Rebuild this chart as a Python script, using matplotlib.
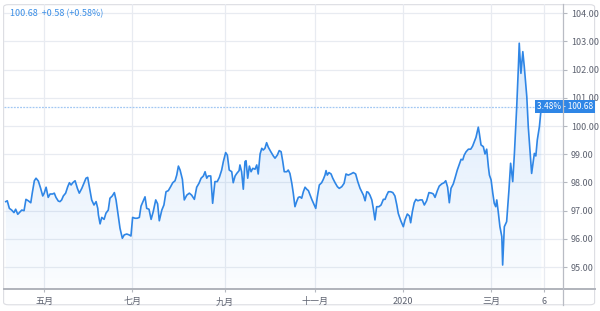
import numpy as np
import matplotlib
matplotlib.use("Agg")
import matplotlib.pyplot as plt
from matplotlib.lines import Line2D
from matplotlib.patches import FancyBboxPatch

plt.rcParams['font.family'] = ['Noto Sans CJK SC', 'DejaVu Sans']

# bar index (trading sessions since 2019-04-01) and close values
bars = [3.8, 4.5, 5.5, 6.6, 7.7, 8.5, 9.5, 10.6, 11.4, 12.5, 13.4, 14.5, 15.7, 16.4, 17.4, 18.2,
        19.3, 20.4, 21.4, 22.1, 23.0, 24.0, 24.9, 26.1, 26.9, 27.7, 28.8, 29.6, 30.4, 31.2, 32.3,
        33.3, 34.1, 34.9, 35.7, 36.8, 37.9, 38.8, 40.0, 41.1, 42.0, 42.8, 43.6, 44.7, 45.8, 46.8,
        47.6, 47.9, 48.7, 49.5, 50.6, 51.5, 52.6, 53.4, 54.5, 55.5, 56.3, 57.1, 58.2, 59.3, 60.2,
        61.4, 62.5, 63.4, 64.2, 65.3, 66.4, 67.4, 68.2, 69.3, 70.1, 70.9, 72.0, 73.0, 74.0, 75.2,
        76.1, 76.9, 78.1, 79.1, 80.1, 81.2, 82.3, 83.3, 84.4, 85.2, 86.0, 86.8, 87.9, 88.8, 90.0,
        91.2, 92.3, 93.6, 94.7, 95.8, 96.8, 97.9, 98.7, 99.5, 100.2, 101.4, 102.3, 103.4, 104.5,
        105.5, 106.6, 107.4, 108.5, 109.3, 110.2, 111.4, 112.1, 113.0, 113.8, 114.9, 115.3, 116.1,
        116.9, 117.7, 118.2, 119.0, 119.8, 120.6, 121.4, 122.5, 123.3, 124.0, 124.9, 125.7, 126.4,
        127.2, 128.0, 128.8, 130.0, 131.2, 132.0, 133.1, 134.0, 134.9, 135.7, 136.4, 137.6, 138.3,
        139.1, 140.0, 140.7, 141.5, 142.3, 143.1, 143.9, 144.7, 145.5, 146.3, 147.1, 147.9, 148.7,
        149.5, 150.2, 151.4, 152.1, 153.1, 154.2, 155.0, 155.8, 156.3, 156.9, 157.7, 158.7, 159.5,
        160.6, 161.7, 162.6, 163.8, 164.9, 165.8, 166.9, 168.1, 169.3, 170.4, 171.4, 172.5, 173.3,
        174.1, 174.9, 175.7, 176.4, 177.2, 178.1, 178.8, 179.6, 180.4, 181.5, 182.5, 183.6, 184.4,
        185.2, 186.0, 187.1, 188.1, 189.1, 190.0, 190.7, 191.9, 193.1, 193.9, 195.0, 196.0, 196.6,
        197.4, 198.3, 199.1, 200.0, 201.1, 202.1, 203.1, 204.2, 205.3, 206.6, 207.4, 208.2, 209.3,
        210.2, 211.4, 212.5, 213.3, 214.2, 215.0, 215.8, 216.9, 217.7, 218.8, 219.8, 220.6, 221.4,
        222.1, 223.0, 224.1, 225.2, 226.1, 226.9, 227.7, 228.8, 229.3, 230.1, 231.2, 232.0, 232.8,
        233.6, 234.1, 234.9, 235.7, 236.4, 237.1, 237.6, 238.3, 239.1, 240.0, 240.4, 241.2, 242.3,
        243.4, 244.2, 245.2, 246.0, 247.1, 247.9, 248.3, 249.1, 250.0, 250.7, 251.9, 252.6, 253.4,
        254.2, 255.0, 255.5, 256.2, 256.9, 257.9, 258.8]
close = [97.32, 97.35, 97.08, 97.02, 96.93, 97.05, 96.87, 96.96, 97.02, 97.00, 97.40, 97.35, 97.28,
         97.62, 98.06, 98.15, 98.05, 97.79, 97.52, 97.62, 97.83, 97.47, 97.59, 97.59, 97.62, 97.47,
         97.34, 97.32, 97.38, 97.52, 97.62, 97.85, 97.99, 97.91, 97.99, 98.06, 97.79, 97.62, 97.79,
         97.99, 98.15, 98.18, 97.85, 97.38, 97.20, 97.32, 97.08, 96.85, 96.53, 96.76, 96.69, 96.91,
         97.02, 97.44, 97.52, 97.64, 97.38, 96.96, 96.37, 96.02, 96.14, 96.17, 96.14, 96.10, 96.76,
         96.73, 96.73, 96.76, 97.16, 97.35, 97.49, 97.08, 97.05, 96.69, 96.96, 97.38, 97.24, 96.64,
         97.02, 97.20, 97.67, 97.71, 97.85, 97.99, 98.06, 98.26, 98.58, 98.44, 98.11, 97.38, 97.55,
         97.62, 97.55, 97.40, 97.83, 97.97, 98.15, 98.23, 98.38, 98.15, 98.23, 98.23, 97.26, 98.03,
         98.03, 98.18, 98.44, 98.74, 99.06, 98.97, 98.44, 98.38, 97.99, 98.23, 98.32, 98.42, 98.62,
         98.38, 97.76, 98.74, 98.77, 98.15, 98.58, 98.38, 98.50, 98.47, 98.62, 98.30, 99.01, 99.21,
         99.15, 99.21, 99.41, 99.25, 99.09, 98.94, 98.86, 98.97, 99.13, 99.09, 98.74, 98.38, 98.38,
         98.44, 98.32, 97.97, 97.62, 97.14, 97.32, 97.47, 97.49, 97.44, 97.67, 97.83, 97.76, 97.71,
         97.55, 97.40, 97.28, 97.08, 97.47, 97.91, 97.99, 98.11, 98.26, 98.42, 98.26, 98.35, 98.30,
         98.15, 97.99, 97.85, 97.79, 97.85, 97.97, 98.30, 98.26, 98.30, 98.35, 98.30, 98.03, 97.79,
         97.67, 97.55, 97.35, 97.67, 97.65, 97.55, 97.38, 97.08, 96.67, 97.14, 97.14, 97.20, 97.40,
         97.40, 97.55, 97.67, 97.67, 97.64, 97.52, 97.20, 96.90, 96.64, 96.43, 96.67, 96.88, 96.81,
         96.57, 96.96, 97.28, 97.40, 97.35, 97.38, 97.38, 97.20, 97.35, 97.64, 97.62, 97.59, 97.47,
         97.71, 97.87, 97.95, 97.99, 98.06, 97.83, 97.28, 97.79, 97.95, 98.15, 98.44, 98.65, 98.82,
         98.80, 98.97, 99.09, 99.18, 99.18, 99.29, 99.45, 99.60, 99.96, 99.74, 99.33, 99.27, 99.01,
         99.18, 98.56, 98.26, 98.09, 97.62, 97.26, 97.14, 97.38, 96.96, 96.43, 96.08, 95.07, 96.43,
         96.61, 97.73, 98.68, 98.03, 99.03, 100.69, 102.11, 102.94, 101.87, 102.64, 102.11, 101.04,
         99.98, 99.15, 98.32, 98.74, 99.03, 98.94, 99.51, 99.98, 100.68]

tick_pos = [22, 64, 108, 151, 193, 235, 260]
tick_labels = ["五月", "七月", "九月", "十一月", "2020", "三月", "6"]
y_ticks = [95, 96, 97, 98, 99, 100, 101, 102, 103, 104]

last = close[-1]
header = "100.68  +0.58 (+0.58%)"
badge = "3.48% - 100.68"

line_color = "#2f86e6"
grid_color = "#e8ebf1"
text_color = "#5d6270"

fig = plt.figure(figsize=(6.0, 3.11), dpi=100)
fig.patch.set_facecolor("white")

# card frame
fig.add_artist(FancyBboxPatch((0.006, 0.02), 0.985, 0.965, boxstyle="round,pad=0,rounding_size=0.008",
                              transform=fig.transFigure, facecolor="white", edgecolor="#dcdde2",
                              linewidth=0.8, zorder=0))

ax = fig.add_axes([4 / 600, 22 / 311, 558.5 / 600, 285 / 311])
ax.set_facecolor("none")
ymin, ymax = 94.22, 104.33
xmin, xmax = 2.95, 268.9

# gradient area under the line
poly = ax.fill_between(bars, close, ymin, color="none", linewidth=0)
rgba = np.zeros((256, 1, 4))
rgba[..., 0], rgba[..., 1], rgba[..., 2] = 0.20, 0.55, 0.94
rgba[:, 0, 3] = np.linspace(0.20, 0.02, 256)
img = ax.imshow(rgba, extent=[xmin, xmax, ymin, 103.2], aspect="auto", origin="upper", zorder=1)
img.set_clip_path(poly.get_paths()[0], transform=ax.transData)

ax.plot(bars, close, color=line_color, linewidth=1.2, zorder=3)
ax.axhline(last, color="#a3c8f3", linewidth=0.9, linestyle=(0, (1.5, 1)), zorder=2)

ax.set_xlim(xmin, xmax)
ax.set_ylim(ymin, ymax)

ax.set_xticks(tick_pos)
ax.set_xticklabels(tick_labels, fontsize=6.5, color=text_color)
ax.set_yticks(y_ticks)
ax.set_yticklabels([f"{v:.2f}" for v in y_ticks], fontsize=6.5, color=text_color)
ax.yaxis.tick_right()
ax.tick_params(axis="x", length=2, width=0.8, color="#b5b8c0", pad=4)
ax.tick_params(axis="y", length=3, width=0.8, color="#b5b8c0", pad=3)
ax.grid(True, color=grid_color, linewidth=0.9)
ax.set_axisbelow(True)
for s in ax.spines.values():
    s.set_visible(False)

# axis lines spanning into the scale areas
fig.add_artist(Line2D([4 / 600, 595 / 600], [22 / 311, 22 / 311], color="#b0b3bb", linewidth=1.4))
fig.add_artist(Line2D([562.5 / 600, 562.5 / 600], [6 / 311, 307 / 311], color="#b9bcc4", linewidth=0.9))

ax.text(0.01, 0.965, header, transform=ax.transAxes, fontsize=6.5, color="#3a8ee6",
        va="center", ha="left")

ax.text(1.0045, last, badge, transform=ax.get_yaxis_transform(), fontsize=6, color="white",
        ha="center", va="center", clip_on=False, zorder=6,
        bbox=dict(boxstyle="square,pad=0.25", facecolor="#2f86e6", edgecolor="none"))

fig.savefig("out.png", dpi=100)
plt.close(fig)
